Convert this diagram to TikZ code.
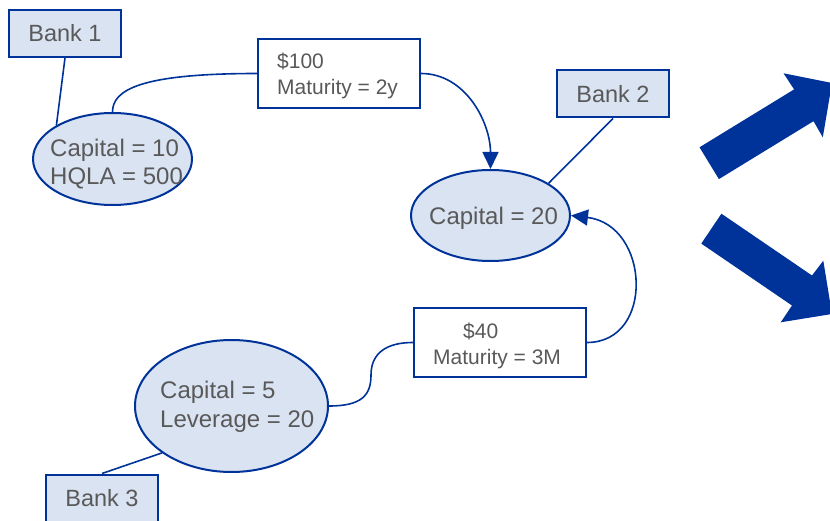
\documentclass[tikz,border=0pt]{standalone}
\usepackage{fontspec}
\setmainfont{Liberation Sans}
\usetikzlibrary{shapes.geometric,arrows.meta}

\definecolor{edgeblue}{RGB}{0,51,153}
\definecolor{paleblue}{RGB}{218,227,242}
\definecolor{txtgray}{RGB}{89,89,89}

\tikzset{
  bankbox/.style={draw=edgeblue, fill=paleblue, line width=2pt, inner sep=0pt,
    minimum width=112pt, minimum height=47pt, text=txtgray,
    font=\fontsize{23.5}{28}\selectfont},
  bankoval/.style={ellipse, draw=edgeblue, fill=paleblue, line width=2pt, inner sep=0pt},
  loanbox/.style={draw=edgeblue, fill=white, line width=2pt, inner sep=0pt,
    minimum width=162pt, minimum height=69pt},
  bigtxt/.style={anchor=base west, inner sep=0pt, text=txtgray,
    font=\fontsize{24}{28}\selectfont},
  smalltxt/.style={anchor=base west, inner sep=0pt, text=txtgray,
    font=\fontsize{21}{26}\selectfont},
  tie/.style={draw=edgeblue, line width=1.6pt},
  flow/.style={draw=edgeblue, line width=1.6pt,
    -{Triangle[length=17pt,width=16pt]}},
  blockarrow/.style={fill=edgeblue}
}

\begin{document}
\begin{tikzpicture}[x=1pt,y=-1pt]
\useasboundingbox (0,0) rectangle (830,521);
\clip (0,0) rectangle (830,521);

% banks
\node[bankbox] (b1) at (65,33.5) {Bank 1};
\node[bankbox] (b2) at (613,94) {Bank 2};
\node[bankbox] (b3) at (102,498) {Bank 3};

% balance sheets
\node[bankoval, minimum width=159pt, minimum height=92pt] (e1) at (112.5,159) {};
\node[bankoval, minimum width=159pt, minimum height=91pt] (e2) at (490.5,215.5) {};
\node[bankoval, minimum width=193pt, minimum height=132pt] (e3) at (231.5,406) {};

% loans
\node[loanbox] (m1) at (339,73.5) {};
\node[loanbox, minimum width=172pt] (m2) at (500,342.5) {};

% bank to balance sheet ties
\draw[tie] (b1.south) -- (e1.149);
\draw[tie] (b2.south) -- (e2.29);
\draw[tie] (b3.north) -- (e3.214.5);

% loan flows
\draw[tie] (e1.north) .. controls (112.5,90) and (140,73.5) .. (m1.west);
\draw[flow] (m1.east) .. controls (466,73.5) and (490.5,123) .. (e2.north);
\draw[flow] (m2.east) .. controls (655,342.5) and (650,225) .. (e2.east);
\draw[tie] (e3.east) .. controls (362,406) and (371,395) .. (371,375)
  coordinate (bend) .. controls (371,352) and (388,342.5) .. (m2.west);

% texts
\node[bigtxt] (t1a) at (50,157) {Capital = 10};
\node[bigtxt] (t1b) at (50,185) {HQLA = 500};
\node[bigtxt] (t2a) at (429,225) {Capital = 20};
\node[bigtxt] (t3a) at (160,398) {Capital = 5};
\node[bigtxt] (t3b) at (160,427) {Leverage = 20};
\node[smalltxt] (l1a) at (277,69) {\$100};
\node[smalltxt] (l1b) at (277,95) {Maturity = 2y};
\node[smalltxt] (l2a) at (463,338) {\$40};
\node[smalltxt] (l2b) at (433,364) {Maturity = 3M};

% outcome arrows
\fill[blockarrow] (699.5,147.3) -- (794.1,89.4) -- (783.5,73.3) -- (832,83)
  -- (822.8,137.3) -- (813.5,121.2) -- (718.9,179.1) -- cycle;
\fill[blockarrow] (721.4,213.7) -- (812,275.5) -- (823.3,260.7) -- (832,314)
  -- (780.7,322.3) -- (792,305.5) -- (701.3,243.6) -- cycle;
\end{tikzpicture}
\end{document}
